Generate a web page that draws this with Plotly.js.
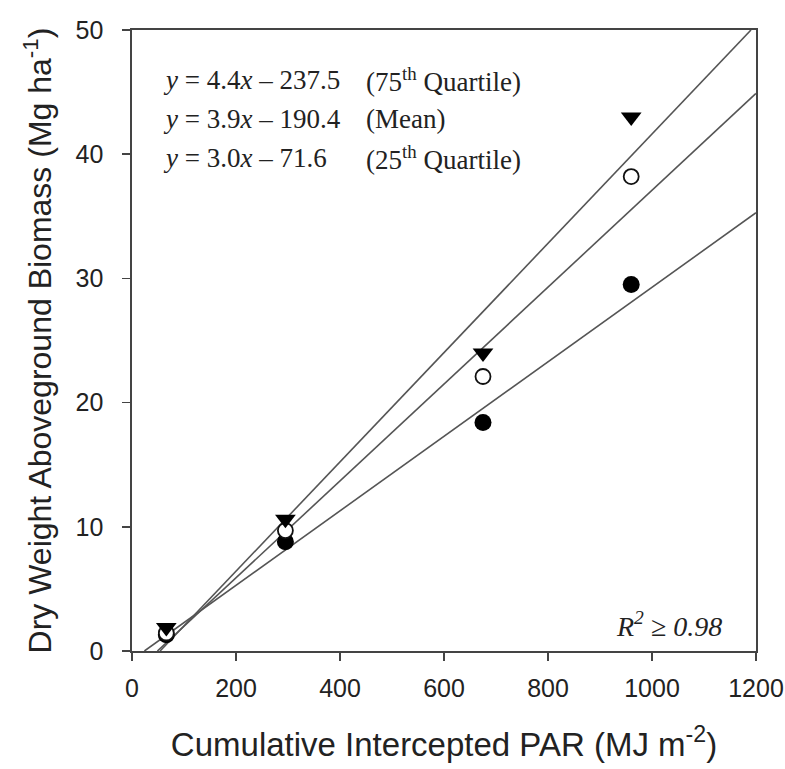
<!DOCTYPE html>
<html>
<head>
<meta charset="utf-8">
<script src="https://cdn.plot.ly/plotly-3.0.1.min.js"></script>
<style>html,body{margin:0;padding:0;background:#fff;}#chart{width:785px;height:769px;}</style>
</head>
<body>
<div id="chart"></div>
<script>
// Cumulative intercepted PAR (MJ m-2)
const parX = [66, 295, 675, 960];
// Dry weight aboveground biomass (Mg ha-1)
const q75 = [1.9, 10.6, 24.0, 43.0];
const meanVals = [1.45, 9.7, 22.1, 38.2];
const q25 = [1.3, 8.8, 18.4, 29.5];
// Regression equations (g m-2 vs MJ m-2)
const fitNames = ["75th Quartile", "Mean", "25th Quartile"];
const slopes = [4.4, 3.9, 3.0];
const intercepts = [-237.5, -190.4, -71.6];
const xMax = 1200, yMax = 50;

const traces = [];
// regression lines, from y=0 to the plot edge
for (let i = 0; i < slopes.length; i++) {
  const x0 = -intercepts[i] / slopes[i];
  let x1 = xMax;
  let y1 = (slopes[i] * x1 + intercepts[i]) / 100;
  if (y1 > yMax) { x1 = (yMax * 100 - intercepts[i]) / slopes[i]; y1 = yMax; }
  traces.push({x: [x0, x1], y: [0, y1], mode: 'lines', type: 'scatter',
    line: {color: '#555', width: 1.6}, hoverinfo: 'skip', showlegend: false, name: fitNames[i]});
}
traces.push({x: parX, y: q25, mode: 'markers', type: 'scatter', name: '25th',
  marker: {symbol: 'circle', size: 17, color: '#000', line: {width: 0}}, showlegend: false});
traces.push({x: parX, y: meanVals, mode: 'markers', type: 'scatter', name: 'Mean',
  marker: {symbol: 'circle', size: 15, color: '#fff', line: {width: 1.8, color: '#111'}}, showlegend: false});
traces.push({x: parX, y: q75, mode: 'markers', type: 'scatter', name: '75th',
  marker: {symbol: 'triangle-down', size: 18, color: '#000', line: {width: 0}}, showlegend: false});

const serif = {family: 'Liberation Serif, Times New Roman, serif', size: 27, color: '#222'};
const eqY = [0.919, 0.857, 0.794];
const eqText = ['<i>y</i> = 4.4<i>x</i> – 237.5', '<i>y</i> = 3.9<i>x</i> – 190.4', '<i>y</i> = 3.0<i>x</i> – 71.6'];
const lblText = ['(75<sup>th</sup> Quartile)', '(Mean)', '(25<sup>th</sup> Quartile)'];
const annotations = [];
for (let i = 0; i < 3; i++) {
  annotations.push({xref: 'paper', yref: 'paper', x: 0.047, y: eqY[i], xanchor: 'left', yanchor: 'middle',
    text: eqText[i], showarrow: false, font: serif});
  annotations.push({xref: 'paper', yref: 'paper', x: 0.372, y: eqY[i], xanchor: 'left', yanchor: 'middle',
    text: lblText[i], showarrow: false, font: serif});
}
annotations.push({xref: 'paper', yref: 'paper', x: 0.948, y: 0.042, xanchor: 'right', yanchor: 'middle',
  text: '<i>R<sup>2</sup> ≥ 0.98</i>', showarrow: false, font: {family: serif.family, size: 28, color: '#222'}});

const axisFont = {family: 'Liberation Sans, Arial, sans-serif', size: 25, color: '#222'};
const titleFont = {family: 'Liberation Sans, Arial, sans-serif', size: 32, color: '#222'};
const layout = {
  width: 785, height: 769,
  margin: {l: 132, r: 29, t: 30, b: 118},
  paper_bgcolor: '#fff', plot_bgcolor: '#fff',
  showlegend: false,
  xaxis: {range: [0, xMax], tickvals: [0, 200, 400, 600, 800, 1000, 1200],
    showgrid: false, zeroline: false, showline: true, linecolor: '#444', linewidth: 1.6, mirror: true,
    ticks: 'outside', ticklen: 8, tickwidth: 1.6, tickcolor: '#444', tickfont: axisFont, ticklabelstandoff: 6,
    title: {text: 'Cumulative Intercepted PAR (MJ m<sup>-2</sup>)', font: {family: titleFont.family, size: 33, color: '#222'}, standoff: 32}},
  yaxis: {range: [0, yMax], tickvals: [0, 10, 20, 30, 40, 50],
    showgrid: false, zeroline: false, showline: true, linecolor: '#444', linewidth: 1.6, mirror: true,
    ticks: 'outside', ticklen: 8, tickwidth: 1.6, tickcolor: '#444', tickfont: axisFont, ticklabelstandoff: 14,
    title: {text: 'Dry Weight Aboveground Biomass (Mg ha<sup>-1</sup>)', font: titleFont, standoff: 14}},
  annotations: annotations
};
Plotly.newPlot('chart', traces, layout, {staticPlot: true, displayModeBar: false});
</script>
</body>
</html>
